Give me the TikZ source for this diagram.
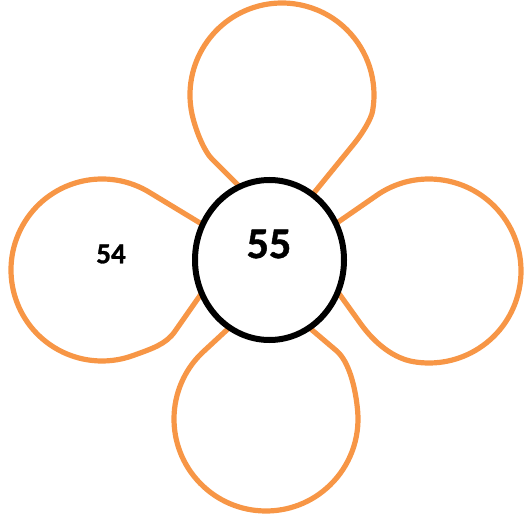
\documentclass[tikz,border=0pt]{standalone}
\usepackage{fontspec}
\usetikzlibrary{calc}
\setmainfont{Carlito}[BoldFont={Carlito Bold},BoldFeatures={FakeBold=1}]
\definecolor{petal}{HTML}{F79646}
\begin{document}
\begin{tikzpicture}[x=1pt,y=1pt,
  petalline/.style={draw=petal,line width=5.2pt,line join=round},
  lbl/.style={text=black,inner sep=0pt}]
\useasboundingbox (0,0) rectangle (524,520);
% top petal
\coordinate (tc) at (282,425);
\coordinate (ta1) at (243,330); \coordinate (tb1) at (211.8,361.2);
\coordinate (tq1) at ($(tc)+(195:92)$);
\coordinate (tq2) at ($(tc)+(-10:92)$);
\coordinate (tb2) at (352,373.8); \coordinate (ta2) at (309,321);
\draw[petalline] (ta1) -- (tb1) .. controls ($(tb1)+(135:9)$) and ($(tq1)+(285:18)$) .. (tq1)
  arc[start angle=195,end angle=-10,radius=92]
  .. controls ($(tq2)+(260:8)$) and ($(tb2)+(50.2:17)$) .. (tb2) -- (ta2);
% left petal
\coordinate (lc) at (102,250);
\coordinate (la1) at (205,294);
\coordinate (lt1) at ($(lc)+(58:91)$);
\coordinate (lq2) at ($(lc)+(290:91)$);
\coordinate (lb2) at (174.9,188.6); \coordinate (la2) at (203.6,229.6);
\draw[petalline] (la1) -- (lt1)
  arc[start angle=58,end angle=290,radius=91]
  .. controls ($(lq2)+(20:20)$) and ($(lb2)+(235:16)$) .. (lb2) -- (la2);
% right petal
\coordinate (rc) at (429,249);
\coordinate (ra1) at (331,293);
\coordinate (rt1) at ($(rc)+(122.8:92)$);
\coordinate (rq2) at ($(rc)+(-100:92)$);
\coordinate (rb2) at (360.4,196.6); \coordinate (ra2) at (336.5,229.9);
\draw[petalline] (ra1) -- (rt1)
  arc[start angle=122.8,end angle=-100,radius=92]
  .. controls ($(rq2)+(170:19)$) and ($(rb2)+(-54.3:26)$) .. (rb2) -- (ra2);
% bottom petal
\coordinate (bc) at (266,101);
\coordinate (ba1) at (232.8,195.6);
\coordinate (bt1) at ($(bc)+(134:92)$);
\coordinate (bq2) at ($(bc)+(5:92)$);
\coordinate (bb2) at (336.4,169.3); \coordinate (ba2) at (305.9,195.2);
\draw[petalline] (ba1) -- (bt1)
  arc[start angle=134,end angle=365,radius=92]
  .. controls ($(bq2)+(95:22)$) and ($(bb2)+(-40.2:17)$) .. (bb2) -- (ba2);
% hub
\draw[draw=black,fill=white,line width=6pt] (269.5,260) ellipse[x radius=74.5,y radius=80];
\node[lbl,font=\bfseries\fontsize{44}{50}\selectfont] (n55) at (269,276) {55};
\node[lbl,font=\bfseries\fontsize{29}{34}\selectfont] (n54) at (111,266) {54};
\end{tikzpicture}
\end{document}
